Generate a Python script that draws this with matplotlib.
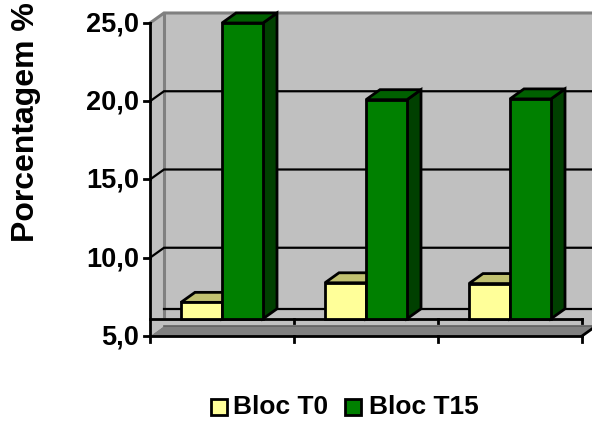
#!/usr/bin/env python3
"""Grouped 3D-look bar chart of Bloc T0 / Bloc T15 percentages."""

import matplotlib
matplotlib.use("Agg")

import matplotlib.pyplot as plt
from matplotlib.patches import Polygon

plt.rcParams["font.family"] = ["Liberation Sans", "DejaVu Sans"]

# Chart data
groups = [0, 1, 2]
bloc_t0 = [7.15, 8.4, 8.35]
bloc_t15 = [25.0, 20.1, 20.15]
y_ticks = [5, 10, 15, 20, 25]
y_tick_labels = ["5,0", "10,0", "15,0", "20,0", "25,0"]
grid_values = [10, 15, 20]
y_label = "Porcentagem %"
series_names = ["Bloc T0", "Bloc T15"]

# Scale: one group is 144 px wide, one percent is 15.65 px tall
PX_X = 144.0
PX_Y = 15.65
LEFT_PX = 150.0
FLOOR_PX = 336.0

DX = 14 / PX_X  # depth offset
DY = 10 / PX_Y
BASE = 6.1      # value where the bars stand
BAR_W = 41 / PX_X
BAR_OFF = 31 / PX_X

T0_COLORS = ("#FFFF99", "#C0C070", "#80804C")
T15_COLORS = ("#008000", "#006000", "#004000")
WALL = "#C0C0C0"
WALL_EDGE = "#808080"


def draw_bar(ax, x, top, colors):
    """Draw one bar as front, top and side faces."""
    lw = 2.0
    front = [(x, BASE), (x + BAR_W, BASE), (x + BAR_W, top), (x, top)]
    roof = [(x, top), (x + BAR_W, top), (x + BAR_W + DX, top + DY), (x + DX, top + DY)]
    side = [(x + BAR_W, BASE), (x + BAR_W + DX, BASE + DY),
            (x + BAR_W + DX, top + DY), (x + BAR_W, top)]
    for pts, col in zip((side, roof, front), (colors[2], colors[1], colors[0])):
        ax.add_patch(Polygon(pts, closed=True, facecolor=col, edgecolor="black",
                             linewidth=lw, joinstyle="miter", zorder=5))


fig = plt.figure(figsize=(5.92, 4.26), dpi=100)
ax = fig.add_axes([0, 0, 1, 1])
ax.set_xlim(-LEFT_PX / PX_X, (592 - LEFT_PX) / PX_X)
ax.set_ylim(5 - (426 - FLOOR_PX) / PX_Y, 5 + FLOOR_PX / PX_Y)
ax.axis("off")

x_end = len(groups)
y_top = y_ticks[-1]
y_low = y_ticks[0]

# Back wall and side wall
ax.add_patch(Polygon([(DX, y_low + DY), (x_end + DX, y_low + DY),
                      (x_end + DX, y_top + DY), (DX, y_top + DY)],
                     facecolor=WALL, edgecolor="none", zorder=1))
ax.add_patch(Polygon([(0, y_low), (DX, y_low + DY), (DX, y_top + DY), (0, y_top)],
                     facecolor=WALL, edgecolor="none", zorder=1))
ax.plot([0, DX, x_end + DX], [y_top, y_top + DY, y_top + DY],
        color=WALL_EDGE, lw=2.2, zorder=2, solid_joinstyle="miter")
ax.plot([DX, DX], [y_low + DY, y_top + DY], color=WALL_EDGE, lw=2.2, zorder=2)

# Gridlines run along the back wall and fold onto the side wall
for v in grid_values:
    ax.plot([0, DX, x_end + DX], [v, v + DY, v + DY], color="black", lw=1.6,
            zorder=3, solid_joinstyle="miter")
ax.plot([DX, x_end + DX], [BASE + DY, BASE + DY], color="black", lw=1.6, zorder=3)

# Floor slab under the bars
ax.add_patch(Polygon([(0, y_low), (x_end, y_low), (x_end + DX, y_low + DY), (DX, y_low + DY)],
                     facecolor=WALL_EDGE, edgecolor="none", zorder=2))
ax.add_patch(Polygon([(0, y_low), (DX, y_low + DY), (DX, BASE), (0, BASE)],
                     facecolor=WALL, edgecolor="none", zorder=2))
ax.add_patch(Polygon([(0, BASE), (x_end, BASE), (x_end + DX, y_low + DY), (0, y_low + DY)],
                     facecolor=WALL, edgecolor="none", zorder=2))
ax.plot([DX, x_end + DX], [y_low + DY, y_low + DY], color="#606060", lw=1.2, zorder=3)
ax.plot([0, x_end], [BASE, BASE], color="black", lw=2.0, zorder=4)
ax.plot([0, x_end], [y_low, y_low], color="black", lw=2.0, zorder=4)
ax.plot([x_end, x_end + DX], [y_low, y_low + DY], color="black", lw=2.0, zorder=4)

# Value axis
ax.plot([0, 0], [y_low, y_top], color="black", lw=2.0, zorder=6)
for v, lab in zip(y_ticks, y_tick_labels):
    ax.plot([-6 / PX_X, 0], [v, v], color="black", lw=2.0, zorder=6)
    ax.text(-11 / PX_X, v - 1.5 / PX_Y, lab, ha="right", va="center", fontsize=19.5,
            fontweight="bold", zorder=6)

# Group tick marks
for g in range(1, x_end + 1):
    ax.plot([g, g], [BASE - 4 / PX_Y, BASE], color="black", lw=2.0, zorder=6)
    ax.plot([g, g], [y_low - 6 / PX_Y, y_low], color="black", lw=2.0, zorder=6)
ax.plot([0, 0], [y_low - 6 / PX_Y, y_low], color="black", lw=2.0, zorder=6)

# Bars, left to right so each one overlaps the previous side face
for g, t0, t15 in zip(groups, bloc_t0, bloc_t15):
    draw_bar(ax, g + BAR_OFF, t0, T0_COLORS)
    draw_bar(ax, g + BAR_OFF + BAR_W, t15, T15_COLORS)

fig.text(26 / 592, 1 - 122 / 426, y_label, rotation=90, ha="center", va="center",
         fontsize=23, fontweight="bold")

# Legend
legend_y = 1 - 407 / 426
for name, col, sq_x, tx_x in zip(series_names, (T0_COLORS[0], T15_COLORS[0]),
                                 (211, 345), (233, 369)):
    fig.patches.append(plt.Rectangle((sq_x / 592, legend_y - 8 / 426), 16 / 592, 16 / 426,
                                     transform=fig.transFigure, facecolor=col,
                                     edgecolor="black", linewidth=2))
    fig.text(tx_x / 592, legend_y, name, ha="left", va="center", fontsize=19,
             fontweight="bold")

fig.savefig("out.png", dpi=100)
